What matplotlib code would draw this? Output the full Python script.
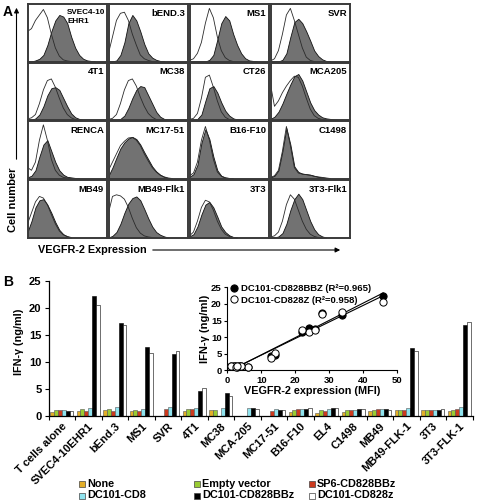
import numpy as np
import matplotlib
matplotlib.use('Agg')
import matplotlib.pyplot as plt
from matplotlib.patches import Rectangle, FancyArrowPatch
from matplotlib.transforms import ScaledTranslation

W, H = 479, 501

# ---- panel A: flow histograms (heights in % of panel, x step 0.05) ----
panel_names = ['SVEC4-10\nEHR1', 'bEND.3', 'MS1', 'SVR',
               '4T1', 'MC38', 'CT26', 'MCA205',
               'RENCA', 'MC17-51', 'B16-F10', 'C1498',
               'MB49', 'MB49-Flk1', '3T3', '3T3-Flk1']
control_hist = [
    [55, 60, 75, 85, 95, 80, 50, 25, 10, 3, 1, 0],
    [15, 45, 75, 88, 90, 75, 50, 30, 12, 5, 2, 0],
    [2, 5, 15, 35, 70, 97, 80, 45, 20, 7, 2, 0],
    [1, 5, 20, 50, 85, 97, 75, 50, 25, 8, 2, 0],
    [2, 4, 10, 30, 55, 72, 75, 60, 40, 22, 10, 4, 1, 0],
    [1, 3, 10, 30, 55, 72, 75, 62, 42, 25, 12, 5, 1, 0],
    [1, 3, 12, 40, 78, 82, 60, 35, 15, 5, 1, 0],
    [65, 25, 35, 50, 62, 72, 80, 78, 62, 40, 20, 8, 3, 1, 0],
    [20, 15, 30, 70, 98, 70, 35, 15, 6, 2, 1, 0],
    [15, 30, 45, 60, 68, 74, 75, 70, 60, 45, 32, 20, 12, 6, 3, 1, 0],
    [5, 10, 30, 70, 95, 70, 35, 12, 4, 1, 0],
    [2, 5, 15, 50, 95, 60, 20, 10, 8, 7, 6, 4, 3, 2, 1, 0],
    [25, 45, 65, 75, 72, 60, 42, 25, 12, 5, 2, 0],
    [45, 75, 78, 76, 70, 55, 35, 18, 8, 3, 1, 0],
    [3, 10, 30, 55, 68, 65, 50, 30, 15, 6, 2, 0],
    [1, 3, 10, 30, 60, 78, 70, 50, 30, 15, 6, 2, 0],
]
stained_hist = [
    [0, 0, 2, 5, 12, 30, 55, 75, 85, 82, 70, 45, 25, 12, 5, 2, 1, 0],
    [0, 0, 2, 12, 35, 70, 85, 75, 55, 32, 15, 7, 3, 1, 0],
    [0, 0, 0, 0, 0, 3, 12, 40, 70, 83, 75, 50, 30, 15, 6, 2, 1, 0],
    [0, 0, 0, 3, 15, 45, 72, 78, 70, 55, 38, 20, 10, 4, 1, 0],
    [0, 0, 3, 10, 25, 45, 58, 60, 55, 40, 25, 12, 5, 2, 0],
    [0, 0, 0, 2, 8, 22, 40, 55, 62, 60, 45, 30, 15, 6, 2, 0],
    [0, 0, 2, 10, 35, 58, 62, 50, 32, 17, 8, 3, 1, 0],
    [2, 6, 15, 30, 48, 65, 80, 84, 72, 52, 32, 18, 10, 5, 3, 2, 1, 0],
    [2, 5, 15, 40, 62, 70, 50, 30, 15, 7, 3, 2, 1, 0],
    [5, 20, 38, 55, 66, 73, 76, 72, 62, 48, 35, 22, 13, 7, 3, 1, 0],
    [3, 8, 25, 65, 90, 72, 40, 15, 5, 2, 1, 0],
    [2, 5, 15, 50, 92, 62, 22, 12, 9, 8, 7, 5, 3, 2, 1, 0],
    [10, 30, 55, 68, 70, 60, 45, 28, 14, 6, 2, 0],
    [0, 3, 10, 25, 45, 62, 72, 75, 68, 52, 35, 20, 10, 5, 2, 0],
    [2, 6, 20, 42, 60, 65, 55, 38, 20, 10, 4, 1, 0],
    [0, 0, 2, 8, 25, 50, 70, 80, 70, 50, 30, 15, 6, 2, 0],
]

# ---- panel B: IFN-gamma (ng/ml) ----
cell_lines = ['T cells alone', 'SVEC4-10EHR1', 'bEnd.3', 'MS1', 'SVR', '4T1',
              'MC38', 'MCA-205', 'MC17-51', 'B16-F10', 'EL4', 'C1498', 'MB49',
              'MB49-FLK-1', '3T3', '3T3-FLK-1']
ifn_none = [0.7, 0.75, 1.0, 0.75, 0, 0.9, 1.05, 0, 0, 0.6, 0.55, 0.6, 0.75, 0.95, 1.05, 0.75]
ifn_empty = [1.0, 1.2, 1.2, 1.05, 0, 1.2, 1.05, 0, 0, 1.05, 1.05, 0.95, 1.0, 1.05, 1.05, 1.05]
ifn_sp6 = [1.0, 0.75, 0.9, 0.9, 1.25, 1.2, 0, 0, 0.9, 1.2, 0.9, 1.05, 1.2, 1.05, 1.05, 1.2]
ifn_cd8 = [1.0, 1.4, 1.5, 1.25, 1.55, 1.4, 1.4, 1.4, 1.2, 1.2, 1.2, 1.05, 1.2, 1.4, 1.05, 1.55]
ifn_bbz = [0.9, 22.3, 17.3, 12.7, 11.5, 4.6, 4.2, 1.4, 0.95, 1.2, 1.4, 1.25, 1.2, 12.5, 1.05, 16.8]
ifn_z = [0.9, 20.5, 16.9, 11.6, 12.0, 5.1, 3.6, 1.3, 0.95, 1.4, 1.4, 1.25, 1.05, 12.1, 1.2, 17.5]
# VEGFR-2 MFI of each target line (no value for T cells alone)
mfi = [np.nan, 46, 28, 24, 22, 14, 13, 3.5, 6, 2, 1, 4, 2.5, 26, 3, 34]

series_labels = ['None', 'Empty vector', 'SP6-CD828BBz',
                 'DC101-CD8', 'DC101-CD828BBz', 'DC101-CD828z']
series_colors = ['#E3AE28', '#99CC33', '#CC3A1E', '#8FE3EE', '#000000', '#FFFFFF']

plt.rcParams['font.family'] = ['Liberation Sans', 'DejaVu Sans']
plt.rcParams['font.weight'] = 'bold'
plt.rcParams['axes.labelweight'] = 'bold'


def px_rect(x0, y0, x1, y1):
    return [x0 / W, 1 - y1 / H, (x1 - x0) / W, (y1 - y0) / H]


def fx(x):
    return x / W


def fy(y):
    return 1 - y / H


fig = plt.figure(figsize=(W / 100, H / 100), dpi=100)

# ---------------- panel A ----------------
col_x = [27.5, 108.5, 189.5, 270.5]
row_y = [4, 62.5, 121, 180]
pw, ph = 79.5, 57.5
for i, name in enumerate(panel_names):
    r, c = divmod(i, 4)
    x0, y0 = col_x[c], row_y[r]
    ax = fig.add_axes(px_rect(x0, y0, x0 + pw, y0 + ph))
    st = np.array(stained_hist[i]) / 100
    ct = np.array(control_hist[i]) / 100
    ax.fill_between(np.arange(len(st)) * 0.05, st, color='#727272',
                    edgecolor='#111111', linewidth=0.6)
    ax.plot(np.arange(len(ct)) * 0.05, ct, color='#2a2a2a', lw=0.6)
    ax.set_xlim(0, 1)
    ax.set_ylim(0, 1.05)
    ax.set_xticks([])
    ax.set_yticks([])
    for s in ax.spines.values():
        s.set_linewidth(1.4)
        s.set_color('#3a3a3a')
    if '\n' in name:
        ax.text(0.5, 1 - 5 / ph, name, transform=ax.transAxes, ha='left',
                va='top', fontsize=5.9, linespacing=1.35)
    else:
        ax.text(1 - 3 / pw, 1 - 5 / ph, name, transform=ax.transAxes,
                ha='right', va='top', fontsize=6.8)

fig.text(fx(3), fy(12), 'A', fontsize=10, ha='left', va='center')
fig.text(fx(13.5), fy(200), 'Cell number', rotation=90, fontsize=8,
         ha='center', va='center')
fig.add_artist(FancyArrowPatch((fx(16.5), fy(162)), (fx(16.5), fy(5)),
                               transform=fig.transFigure, arrowstyle='-|>',
                               mutation_scale=7, lw=0.8, color='black'))
fig.text(fx(38), fy(250), 'VEGFR-2 Expression', fontsize=7.8,
         ha='left', va='center')
fig.add_artist(FancyArrowPatch((fx(150), fy(250)), (fx(343), fy(250)),
                               transform=fig.transFigure, arrowstyle='-|>',
                               mutation_scale=7, lw=0.8, color='black'))

# ---------------- panel B ----------------
axb = fig.add_axes(px_rect(48.5, 281.3, 472.5, 415.5))
n = len(cell_lines)
centers = np.arange(n) + 0.5
bw = 0.88 / 6
series = [ifn_none, ifn_empty, ifn_sp6, ifn_cd8, ifn_bbz, ifn_z]
for k, (vals, col) in enumerate(zip(series, series_colors)):
    edge = '#000000' if k >= 4 else '#555555'
    axb.bar(centers + (k - 2.5) * bw, vals, width=bw, color=col,
            edgecolor=edge, linewidth=0.4)
axb.set_xlim(0, n)
axb.set_ylim(0, 25)
axb.set_yticks(np.arange(0, 26, 5))
axb.set_xticks(np.arange(n + 1))
axb.set_xticklabels([])
axb.set_xticks(centers, minor=True)
axb.set_xticklabels(cell_lines, minor=True, rotation=45, ha='right',
                    va='top', rotation_mode='anchor', fontsize=8)
shift = ScaledTranslation(4 / 100, 0, fig.dpi_scale_trans)
for lab in axb.get_xticklabels(minor=True):
    lab.set_transform(lab.get_transform() + shift)
axb.tick_params(axis='x', which='major', length=3, width=0.8)
axb.tick_params(axis='x', which='minor', length=0, pad=4)
axb.tick_params(axis='y', length=3, width=0.8, labelsize=8, pad=2)
for s in ['top', 'right']:
    axb.spines[s].set_visible(False)
for s in ['left', 'bottom']:
    axb.spines[s].set_linewidth(0.9)
fig.text(fx(19), fy(342), 'IFN-γ (ng/ml)', rotation=90, fontsize=7.8,
         ha='center', va='center')
fig.text(fx(3), fy(282), 'B', fontsize=10, ha='left', va='center')

# legend
leg_cols = [82, 197, 312]
leg_rows = [484, 495.5]
for k, (lab, col) in enumerate(zip(series_labels, series_colors)):
    r, c = divmod(k, 3)
    x, y = leg_cols[c], leg_rows[r]
    fig.add_artist(Rectangle((fx(x - 3), fy(y + 3)), 6 / W, 6 / H,
                             transform=fig.transFigure, facecolor=col,
                             edgecolor='#444444', linewidth=0.5))
    fig.text(fx(x + 5), fy(y), lab, fontsize=7.8, ha='left', va='center')

# inset
axi = fig.add_axes(px_rect(227.3, 287.3, 396.7, 370.3))
m = np.array(mfi)
ok = ~np.isnan(m)
for vals in [ifn_bbz, ifn_z]:
    v = np.array(vals)
    a, b = np.polyfit(m[ok], v[ok], 1)
    xs = np.array([m[ok].min(), m[ok].max()])
    axi.plot(xs, a * xs + b, color='black', lw=0.8, zorder=2)
for vals, face, lab in [(ifn_bbz, 'black', 'DC101-CD828BBZ (R²=0.965)'),
                        (ifn_z, 'white', 'DC101-CD828Z (R²=0.958)')]:
    v = np.array(vals)
    axi.plot(m[ok], v[ok], 'o', ms=5.2, mfc=face, mec='black', mew=0.7,
             zorder=3, clip_on=False, label=lab)
axi.set_xlim(0, 50)
axi.set_ylim(0, 25)
axi.set_xticks(np.arange(0, 51, 10))
axi.set_yticks(np.arange(0, 26, 5))
axi.tick_params(length=2.5, width=0.8, labelsize=6.8, pad=1.5)
for s in ['top', 'right']:
    axi.spines[s].set_visible(False)
axi.set_xlabel('VEGFR-2 expression (MFI)', fontsize=7.8, labelpad=1)
axi.set_ylabel('IFN-γ (ng/ml)', fontsize=8, labelpad=1)
axi.legend(loc='upper left', bbox_to_anchor=(0.0, 1.08), frameon=False,
           fontsize=6.8, handlelength=0.6, handletextpad=0.5,
           borderaxespad=0, labelspacing=0.25, markerscale=1.0)

fig.savefig('out.png', dpi=100)
